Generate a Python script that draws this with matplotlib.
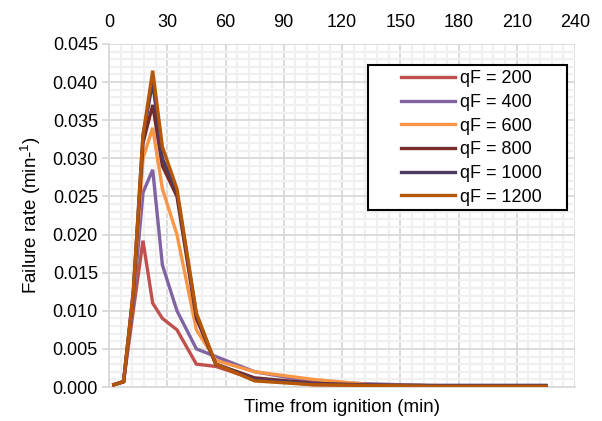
import matplotlib.pyplot as plt
from matplotlib.ticker import MultipleLocator
from matplotlib.patches import Rectangle

plt.rcParams['font.family'] = ['Liberation Sans', 'DejaVu Sans']

# time bin midpoints (min)
time_min = [2.5, 7.5, 12.5, 17.5, 22.5, 27.5, 35, 45, 55, 75, 105, 135, 165, 195, 225]

qf_200 = [0.0003, 0.0007, 0.0100, 0.0192, 0.0110, 0.0090, 0.0075, 0.0030, 0.0027, 0.0010,
          0.0003, 0.0002, 0.0001, 0.0001, 0.0001]
qf_400 = [0.0003, 0.0007, 0.0110, 0.0255, 0.0285, 0.0160, 0.0100, 0.0050, 0.0040, 0.0020,
          0.0007, 0.0004, 0.0002, 0.0002, 0.0002]
qf_600 = [0.0003, 0.0007, 0.0120, 0.0300, 0.0340, 0.0260, 0.0200, 0.0075, 0.0035, 0.0020,
          0.0010, 0.0003, 0.0002, 0.0001, 0.0001]
qf_800 = [0.0003, 0.0007, 0.0120, 0.0320, 0.0370, 0.0290, 0.0250, 0.0090, 0.0030, 0.0012,
          0.0005, 0.0002, 0.0001, 0.0001, 0.0001]
qf_1000 = [0.0003, 0.0007, 0.0125, 0.0330, 0.0400, 0.0300, 0.0255, 0.0095, 0.0030, 0.0010,
           0.0004, 0.0003, 0.0002, 0.0002, 0.0002]
qf_1200 = [0.0003, 0.0007, 0.0125, 0.0330, 0.0415, 0.0315, 0.0260, 0.0097, 0.0030, 0.0008,
           0.0003, 0.0002, 0.0001, 0.0001, 0.0001]

labels = ['qF = 200', 'qF = 400', 'qF = 600', 'qF = 800', 'qF = 1000', 'qF = 1200']
series = [qf_200, qf_400, qf_600, qf_800, qf_1000, qf_1200]
colors = ['#C0504D', '#8064A2', '#F79646', '#772C2A', '#4D3B62', '#B65708']

fig = plt.figure(figsize=(6.02, 4.21), dpi=100)
ax = fig.add_axes([109 / 602, 1 - 387 / 421, (575 - 109) / 602, (387 - 44) / 421])

for y, lab, c in zip(series, labels, colors):
    ax.plot(time_min, y, color=c, lw=2.4, label=lab, solid_joinstyle='miter', zorder=3)

ax.set_xlim(0, 240)
ax.set_ylim(0, 0.045)
ax.xaxis.set_major_locator(MultipleLocator(30))
ax.xaxis.set_minor_locator(MultipleLocator(6))
ax.yaxis.set_major_locator(MultipleLocator(0.005))
ax.yaxis.set_minor_locator(MultipleLocator(0.001))
ax.yaxis.set_major_formatter(plt.FuncFormatter(lambda v, p: f"{v:.3f}"))

ax.grid(which='minor', color='#F0F0F0', lw=1.6, zorder=0)
ax.grid(which='major', color='#D9D9D9', lw=1.3, zorder=1)
ax.set_axisbelow(True)

ax.xaxis.tick_top()
ax.tick_params(axis='x', which='both', length=0, labelsize=13, pad=9)
ax.tick_params(axis='y', which='major', length=5, color='#D9D9D9', width=1.3, labelsize=13, pad=3)
ax.tick_params(axis='y', which='minor', length=0)

for s in ['top', 'right']:
    ax.spines[s].set_visible(False)
for s in ['left', 'bottom']:
    ax.spines[s].set_color('#D9D9D9')
    ax.spines[s].set_linewidth(1.3)

ax.set_xlabel('Time from ignition (min)', fontsize=13.5, labelpad=9)
ax.xaxis.set_label_position('bottom')
ax.set_ylabel('Failure rate (min-$^{\\mathregular{1}}$)', fontsize=13.5, labelpad=7)

# legend box drawn separately so the content can sit centred in a wider frame
box_x0, box_x1 = (368 - 109) / 466, (567 - 109) / 466
box_y0, box_y1 = (387 - 210) / 343, (387 - 65) / 343
ax.add_patch(Rectangle((box_x0, box_y0), box_x1 - box_x0, box_y1 - box_y0,
                       transform=ax.transAxes, facecolor='white', edgecolor='black',
                       lw=1.5, zorder=4))
leg = ax.legend(loc='upper center', bbox_to_anchor=((box_x0 + box_x1) / 2 + 0.008, box_y1 - 0.005),
                fontsize=13, frameon=False, handlelength=3.0, handletextpad=0.25,
                labelspacing=0.37, borderpad=0.2, borderaxespad=0)
leg.set_zorder(5)

fig.savefig('out.png', dpi=100)
